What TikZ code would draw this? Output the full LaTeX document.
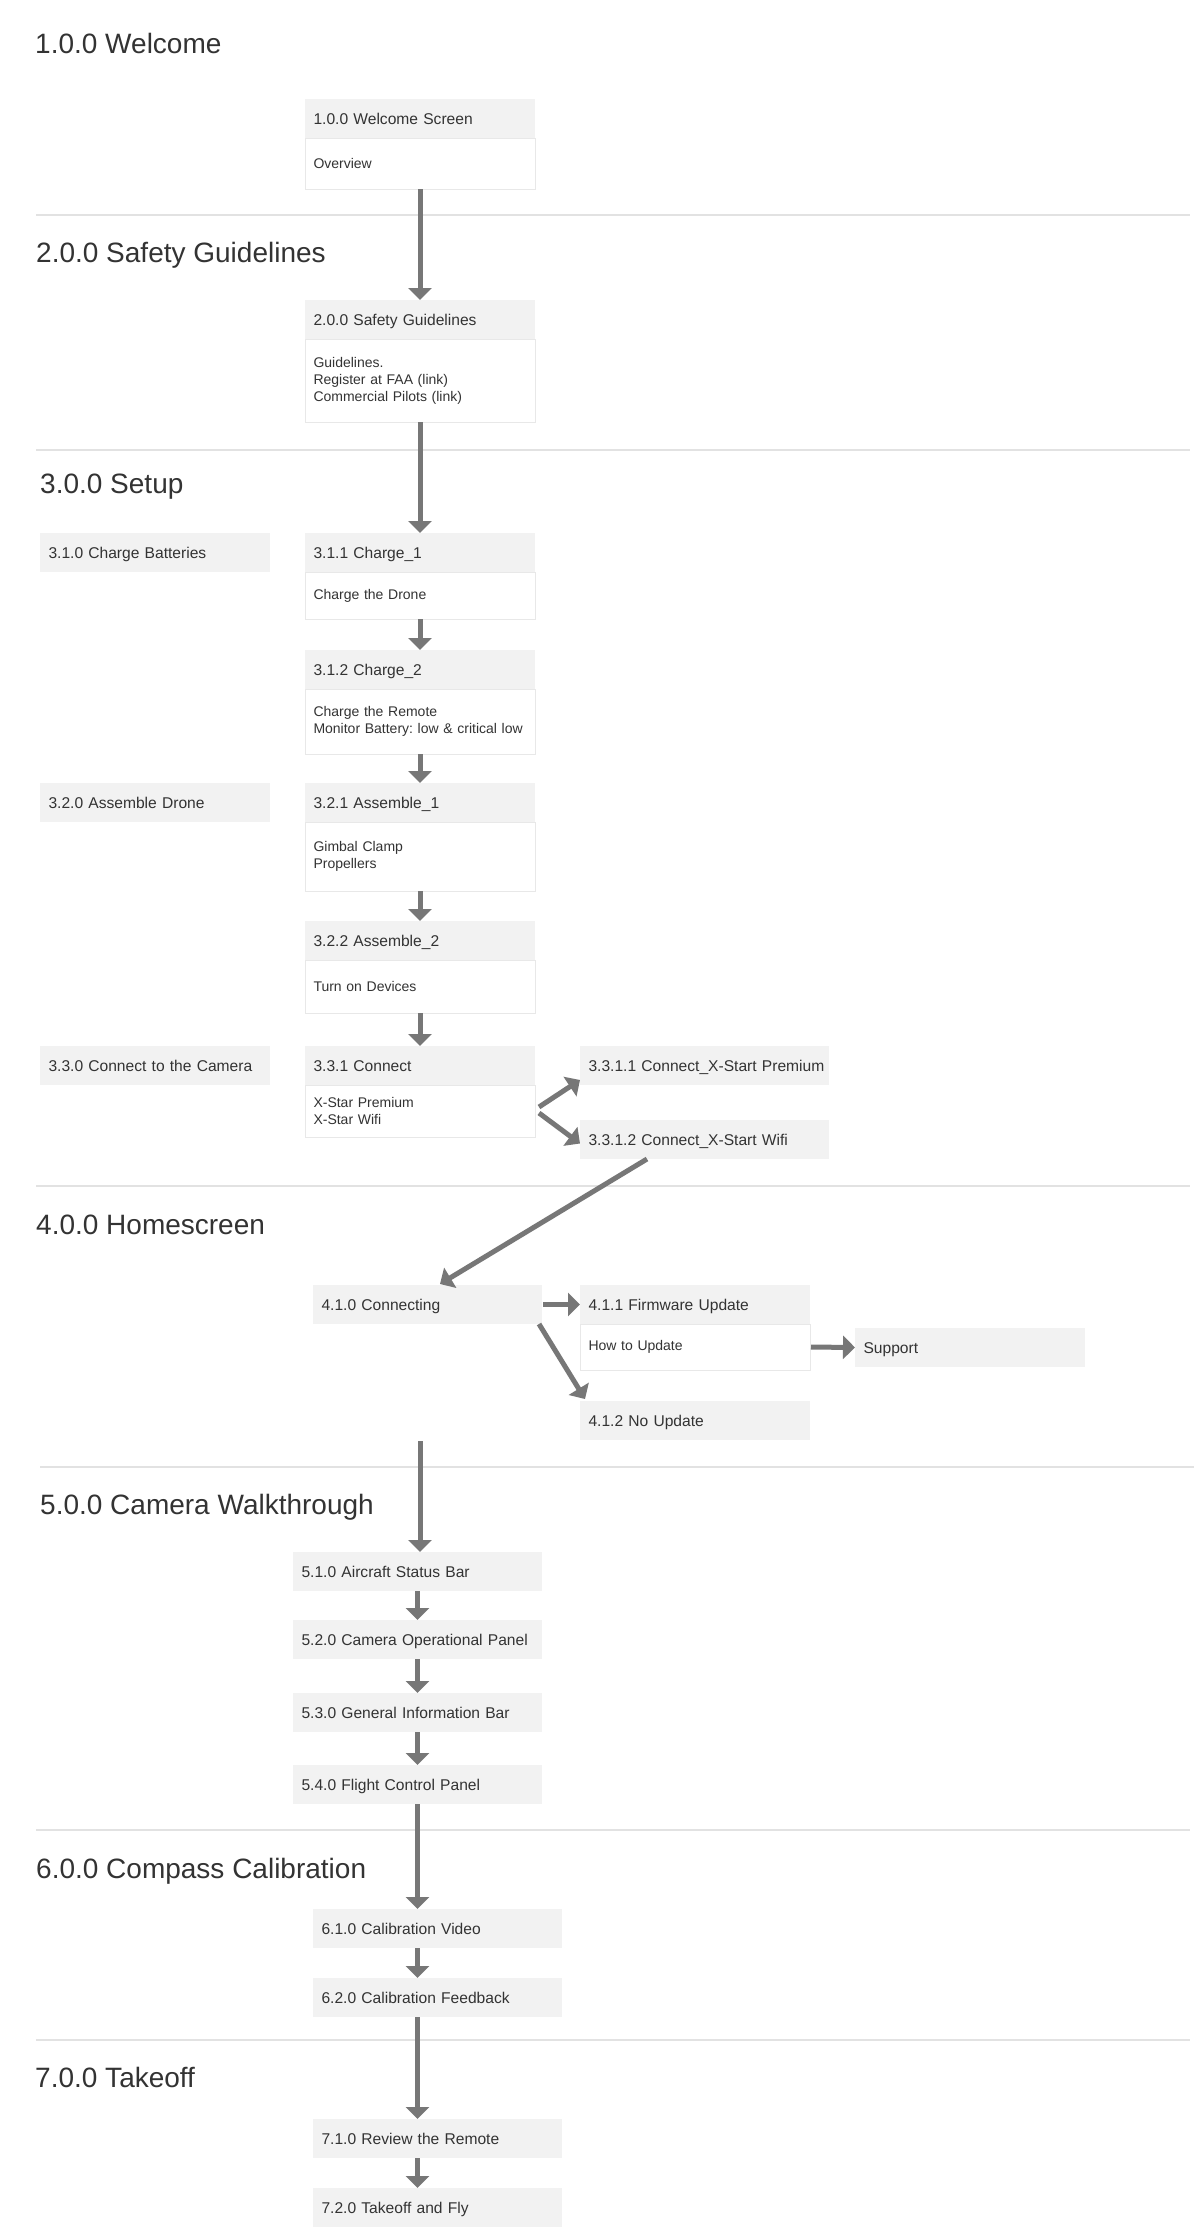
\documentclass[tikz,border=0pt]{standalone}
\usepackage{fontspec}
\setmainfont{Liberation Sans}
\usetikzlibrary{arrows.meta,calc}
\definecolor{boxfill}{HTML}{F2F2F2}
\definecolor{boxline}{HTML}{E8E8E8}
\definecolor{sepline}{HTML}{E2E2E2}
\definecolor{arrowgray}{HTML}{777777}
\definecolor{txt}{HTML}{333333}
\frenchspacing
\begin{document}
\begin{tikzpicture}[x=1pt,y=-1pt,
  title/.style={anchor=base west, inner sep=0pt, font=\fontsize{28pt}{34pt}\selectfont, text=txt},
  hdr/.style={anchor=north west, fill=boxfill, text=txt, inner xsep=8.5pt, inner ysep=0pt, outer sep=0pt,
    minimum height=39pt, text height=12pt, text depth=1pt, text width=#1, align=left,
    font=\fontsize{15.6pt}{19pt}\selectfont},
  bdy/.style n args={2}{anchor=north west, fill=white, draw=boxline, line width=1pt, text=txt,
    inner xsep=8.5pt, inner ysep=0pt, outer sep=0pt, text width=#1, minimum height=#2, align=left,
    font=\fontsize{14pt}{17pt}\selectfont},
  flow/.style={draw=arrowgray, line width=5pt, -{Triangle[width=23pt,length=12pt]}},
  sepl/.style={draw=sepline, line width=1.5pt}
]
\fill[white] (0,0) rectangle (1194,2227);
\useasboundingbox (0,0) rectangle (1194,2227);

% section titles
\node[title] (t1) at (35,53) {1.0.0 Welcome};
\node[title] (t2) at (36,262) {2.0.0 Safety Guidelines};
\node[title] (t3) at (40,493) {3.0.0 Setup};
\node[title] (t4) at (36,1234) {4.0.0 Homescreen};
\node[title] (t5) at (40,1514) {5.0.0 Camera Walkthrough};
\node[title] (t6) at (36,1878) {6.0.0 Compass Calibration};
\node[title] (t7) at (35,2087) {7.0.0 Takeoff};

% separators
\draw[sepl] (36,215) -- (1190,215);
\draw[sepl] (36,450) -- (1190,450);
\draw[sepl] (36,1186) -- (1190,1186);
\draw[sepl] (40,1467) -- (1194,1467);
\draw[sepl] (36,1830) -- (1190,1830);
\draw[sepl] (36,2040) -- (1190,2040);

% section 1
\node[hdr=213pt] (h1) at (305,99) {1.0.0 Welcome Screen};
\node[bdy={213pt}{51pt}] (b1) at (h1.south west) {Overview};

% section 2
\node[hdr=213pt] (h2) at (305,300) {2.0.0 Safety Guidelines};
\node[bdy={213pt}{83pt}] (b2) at (h2.south west) {Guidelines.\\Register at FAA (link)\\Commercial Pilots (link)};

% section 3
\node[hdr=213pt] (h310) at (40,533) {3.1.0 Charge Batteries};
\node[hdr=213pt] (h311) at (305,533) {3.1.1 Charge\_1};
\node[bdy={213pt}{47pt}] (b311) at (h311.south west) {Charge the Drone};
\node[hdr=213pt] (h312) at (305,650) {3.1.2 Charge\_2};
\node[bdy={213pt}{65pt}] (b312) at (h312.south west) {Charge the Remote\\Monitor Battery: low \& critical low};
\node[hdr=213pt] (h320) at (40,783) {3.2.0 Assemble Drone};
\node[hdr=213pt] (h321) at (305,783) {3.2.1 Assemble\_1};
\node[bdy={213pt}{69pt}] (b321) at (h321.south west) {Gimbal Clamp\\Propellers};
\node[hdr=213pt] (h322) at (305,921) {3.2.2 Assemble\_2};
\node[bdy={213pt}{53pt}] (b322) at (h322.south west) {Turn on Devices};
\node[hdr=213pt] (h330) at (40,1046) {3.3.0 Connect to the Camera};
\node[hdr=213pt] (h331) at (305,1046) {3.3.1 Connect};
\node[bdy={213pt}{52pt}] (b331) at (h331.south west) {X-Star Premium\\X-Star Wifi};
\node[hdr=232pt] (h3311) at (580,1046) {\mbox{3.3.1.1 Connect\_X-Start Premium}};
\node[hdr=232pt] (h3312) at (580,1120) {3.3.1.2 Connect\_X-Start Wifi};

% section 4
\node[hdr=212pt] (h410) at (313,1285) {4.1.0 Connecting};
\node[hdr=213pt] (h411) at (580,1285) {4.1.1 Firmware Update};
\node[bdy={213pt}{46pt}] (b411) at (h411.south west) {How to Update};
\node[hdr=213pt] (hsup) at (855,1328) {Support};
\node[hdr=213pt] (h412) at (580,1401) {4.1.2 No Update};

% section 5
\node[hdr=232pt] (h51) at (293,1552) {5.1.0 Aircraft Status Bar};
\node[hdr=232pt] (h52) at (293,1620) {\mbox{5.2.0 Camera Operational Panel}};
\node[hdr=232pt] (h53) at (293,1693) {5.3.0 General Information Bar};
\node[hdr=232pt] (h54) at (293,1765) {5.4.0 Flight Control Panel};

% section 6
\node[hdr=232pt] (h61) at (313,1909) {6.1.0 Calibration Video};
\node[hdr=232pt] (h62) at (313,1978) {6.2.0 Calibration Feedback};

% section 7
\node[hdr=232pt] (h71) at (313,2119) {7.1.0 Review the Remote};
\node[hdr=232pt] (h72) at (313,2188) {7.2.0 Takeoff and Fly};

% connectors
\draw[flow] (b1.south) -- (h2.north);
\draw[flow] (b2.south) -- (h311.north);
\draw[flow] (b311.south) -- (h312.north);
\draw[flow] (b312.south) -- (h321.north);
\draw[flow] (b321.south) -- (h322.north);
\draw[flow] (b322.south) -- (h331.north);
\draw[flow] ($(b331.east)+(4,-4)$) -- ($(h3311.south west)+(0,-5)$);
\draw[flow] ($(b331.east)+(4,2)$) -- ($(h3312.west)+(0,4)$);
\draw[flow] ($(h3312.south west)+(67,0)$) -- ($(h410.north west)+(127,-1)$);
\draw[flow] ($(h410.east)+(1,0)$) -- (h411.west);
\draw[flow] ($(b411.east)+(1,0)$) -- (hsup.west);
\draw[flow] ($(h410.south east)+(-3,0)$) -- ($(h412.north west)+(5,-2)$);
\coordinate (c5) at (420,1441);
\draw[flow] (c5) -- (c5 |- h51.north);
\draw[flow] (h51.south) -- (h52.north);
\draw[flow] (h52.south) -- (h53.north);
\draw[flow] (h53.south) -- (h54.north);
\draw[flow] (h54.south) -- (h54.south |- h61.north);
\draw[flow] (h54.south |- h61.south) -- (h54.south |- h62.north);
\draw[flow] (h54.south |- h62.south) -- (h54.south |- h71.north);
\draw[flow] (h54.south |- h71.south) -- (h54.south |- h72.north);
\end{tikzpicture}
\end{document}
